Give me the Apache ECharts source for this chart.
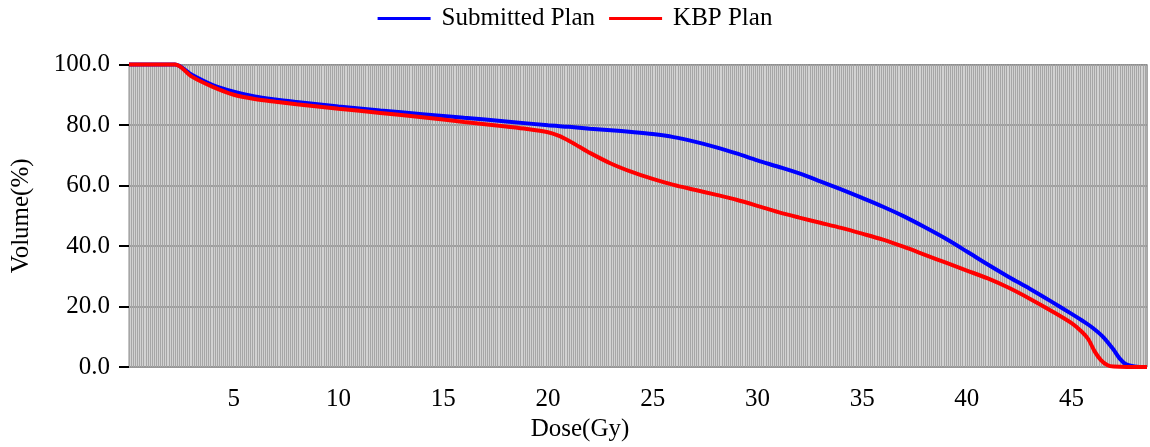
<!DOCTYPE html>
<html>
<head>
<meta charset="utf-8">
<script src="https://cdn.jsdelivr.net/npm/echarts@6/dist/echarts.min.js"></script>
<style>
html,body{margin:0;padding:0;background:#fff;}
#chart{width:1150px;height:447px;}
</style>
</head>
<body>
<div id="chart"></div>
<script>
const seriesNames = ['Submitted Plan', 'KBP Plan'];
const submittedDose = [0, 1, 2.2, 3, 4, 5, 6, 7, 8, 10, 12, 14, 16, 18, 20, 21, 22, 23, 24, 25, 26, 27, 28, 29, 30, 31, 32, 33, 34, 35, 36, 37, 38, 39, 40, 41, 42, 43, 44, 45, 45.5, 46, 46.5, 47, 47.3, 47.6, 48, 48.6];
const submittedVolume = [100, 100, 100, 96.6, 93.2, 91.0, 89.4, 88.4, 87.6, 86.1, 84.8, 83.6, 82.4, 81.2, 79.9, 79.4, 78.8, 78.3, 77.7, 77.0, 76.0, 74.5, 72.7, 70.6, 68.3, 66.2, 64.0, 61.4, 58.7, 55.9, 53.0, 49.8, 46.2, 42.4, 38.2, 33.9, 29.8, 25.9, 21.8, 17.6, 15.4, 13.0, 10.0, 5.8, 2.8, 0.9, 0.2, 0];
const kbpDose = [0, 1, 2.2, 3, 4, 5, 6, 7, 8, 10, 12, 14, 16, 18, 19, 20, 20.5, 21, 21.5, 22, 23, 24, 25, 26, 27, 28, 29, 30, 31, 32, 33, 34, 35, 36, 37, 38, 39, 40, 41, 42, 43, 44, 45, 45.5, 45.8, 46.1, 46.4, 46.7, 47, 48.6];
const kbpVolume = [100, 100, 100, 96.0, 92.6, 90.0, 88.6, 87.7, 86.9, 85.4, 84.0, 82.6, 81.0, 79.5, 78.7, 77.6, 76.5, 74.8, 72.8, 70.8, 67.3, 64.5, 62.2, 60.2, 58.6, 57.0, 55.3, 53.3, 51.2, 49.4, 47.7, 46.0, 44.1, 42.1, 39.7, 37.1, 34.5, 31.9, 29.3, 26.2, 22.6, 18.7, 14.5, 11.6, 9.2, 5.2, 2.3, 0.7, 0.2, 0];
const xMin = 0, xMax = 48.6, xStep = 0.1, xLabelStep = 5;
const yMin = 0, yMax = 100, yStep = 20;

const FONT = 'Liberation Serif';
const FS = 25;
const pairs = (xs, ys) => xs.map((x, i) => [x, ys[i]]);

const chart = echarts.init(document.getElementById('chart'), null, {renderer: 'canvas'});
chart.setOption({
  animation: false,
  backgroundColor: '#ffffff',
  textStyle: {fontFamily: FONT, color: '#000'},
  legend: {
    top: 6, left: 'center', padding: 0, itemGap: 14,
    icon: 'rect', itemWidth: 53, itemHeight: 3,
    textStyle: {fontFamily: FONT, fontSize: FS, color: '#000', padding: [0, 0, 0, 6]},
    data: seriesNames
  },
  grid: {
    left: 129, right: -2, top: 64.5, bottom: 79.5,
    show: true, backgroundColor: '#d2d2d2', borderColor: '#8a8a8a', borderWidth: 1,
    containLabel: false
  },
  xAxis: {
    type: 'value', min: xMin, max: xMax, interval: xStep,
    name: 'Dose(Gy)', nameLocation: 'middle', nameGap: 46,
    nameTextStyle: {fontFamily: FONT, fontSize: FS, color: '#000', padding: [0, 116, 0, 0]},
    axisLine: {show: false},
    axisTick: {show: false},
    axisLabel: {
      fontFamily: FONT, fontSize: FS, color: '#000', margin: 20,
      showMinLabel: true, showMaxLabel: true,
      formatter: function (v) {
        const r = v / xLabelStep;
        if (v > 0 && Math.abs(r - Math.round(r)) < 1e-6) return String(Math.round(v));
        return '';
      }
    },
    splitLine: {show: true, lineStyle: {color: '#a6a6a6', width: 1}}
  },
  yAxis: {
    type: 'value', min: yMin, max: yMax, interval: yStep,
    name: 'Volume(%)', nameLocation: 'middle', nameGap: 95,
    nameTextStyle: {fontFamily: FONT, fontSize: FS, color: '#000'},
    axisLine: {show: false},
    axisTick: {show: true, inside: false, length: 10, lineStyle: {color: '#000', width: 2}},
    axisLabel: {fontFamily: FONT, fontSize: FS, color: '#000', margin: 19,
      formatter: v => v.toFixed(1)},
    splitLine: {show: true, lineStyle: {color: '#8c8c8c', width: 1.5}}
  },
  series: [
    {
      name: seriesNames[0], type: 'line', data: pairs(submittedDose, submittedVolume),
      symbol: 'none', smooth: 0.3, clip: false,
      lineStyle: {color: '#0000ff', width: 4}, itemStyle: {color: '#0000ff'}
    },
    {
      name: seriesNames[1], type: 'line', data: pairs(kbpDose, kbpVolume),
      symbol: 'none', smooth: 0.3, clip: false,
      lineStyle: {color: '#ff0000', width: 4}, itemStyle: {color: '#ff0000'}
    }
  ]
});
</script>
</body>
</html>
